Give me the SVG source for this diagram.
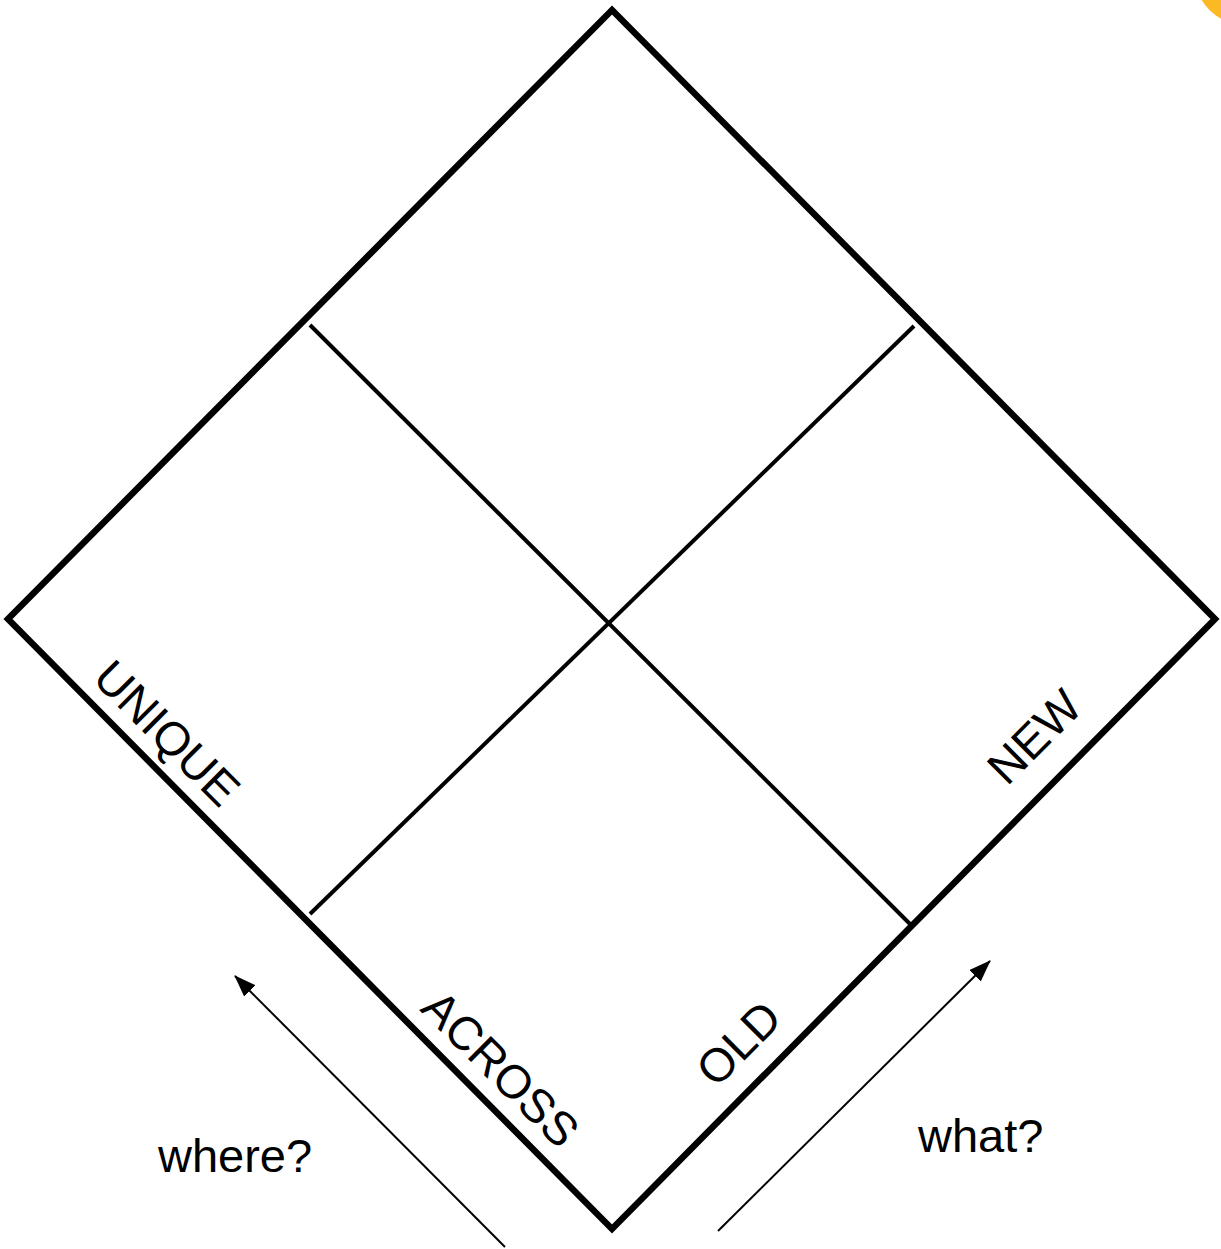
<svg xmlns="http://www.w3.org/2000/svg" width="1221" height="1249" viewBox="0 0 1221 1249">
<style>
.frame{fill:none;stroke:#000;stroke-width:6.5;stroke-linejoin:miter}
.div{fill:none;stroke:#000;stroke-width:4;stroke-linecap:butt}
.arr{fill:none;stroke:#000;stroke-width:2}
.lbl{font-family:"Liberation Sans",Arial,sans-serif;font-size:47px;fill:#000}
</style>
<defs>
<marker id="ah2" viewBox="0 0 22 16" refX="21" refY="8" markerWidth="22" markerHeight="16" markerUnits="userSpaceOnUse" orient="auto">
<path d="M0,0 L22,8 L0,16 z" fill="#000"/>
</marker>
</defs>
<rect width="1221" height="1249" fill="#fff"/>
<circle cx="1245" cy="-25" r="50" fill="#FBB924"/>
<g id="diamond">
<polygon class="frame" points="612,10 1215,619 612,1229 8,619"/>
</g>
<g id="dividers">
<line class="div" x1="310" y1="325" x2="911" y2="925"/>
<line class="div" x1="914" y1="326" x2="310" y2="914"/>
</g>
<g id="connectors">
<line class="arr" x1="505" y1="1247" x2="235" y2="976" marker-end="url(#ah2)"/>
<line class="arr" x1="718" y1="1231" x2="990" y2="961" marker-end="url(#ah2)"/>
</g>
<g id="label-unique"><text class="lbl" transform="translate(91,680) rotate(45)">UNIQUE</text></g>
<g id="label-across"><text class="lbl" transform="translate(419,1010) rotate(45)">ACROSS</text></g>
<g id="label-old"><text class="lbl" transform="translate(716,1089) rotate(-45)">OLD</text></g>
<g id="label-new"><text class="lbl" transform="translate(1007,787) rotate(-45)">NEW</text></g>
<g id="label-where"><text class="lbl" x="158" y="1172">where?</text></g>
<g id="label-what"><text class="lbl" x="918" y="1152">what?</text></g>
</svg>
